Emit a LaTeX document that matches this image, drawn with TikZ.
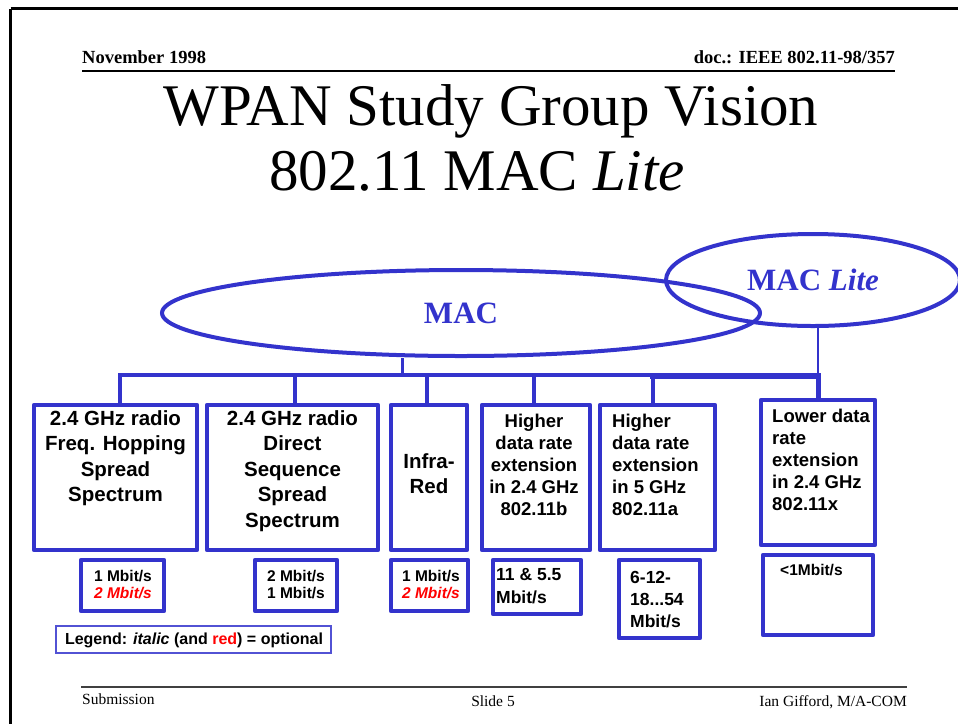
\documentclass[tikz,border=0pt]{standalone}
\usepackage{fontspec}
\setmainfont{Liberation Serif}
\newfontfamily\arialfont{Liberation Sans}
\usetikzlibrary{shapes.geometric}
\definecolor{slideblue}{RGB}{51,51,204}
\definecolor{optred}{RGB}{255,0,0}
\begin{document}
\begin{tikzpicture}[x=1pt,y=-1pt,
  box/.style={draw=slideblue, line width=4.5pt, line join=round, rectangle, inner sep=0pt},
  bus/.style={draw=slideblue, line width=4.5pt, line cap=rect},
  oval/.style={draw=slideblue, line width=4pt, ellipse, inner sep=0pt, text=slideblue, font=\bfseries\fontsize{31}{31}\selectfont},
  bigtxt/.style={font=\arialfont\bfseries\fontsize{20.5}{25.5}\selectfont, align=center, inner sep=0pt, anchor=north},
  midtxt/.style={font=\arialfont\bfseries\fontsize{18.5}{22}\selectfont, inner sep=0pt},
  ratetxt/.style={font=\arialfont\bfseries\fontsize{15.5}{17}\selectfont, align=center, inner sep=0pt, anchor=north},
  ratetxtb/.style={font=\arialfont\bfseries\fontsize{17.5}{22.3}\selectfont, align=left, inner sep=0pt, anchor=north west},
  hdr/.style={font=\bfseries\fontsize{18.5}{22}\selectfont, inner sep=0pt},
  ftr/.style={font=\fontsize{15.5}{18}\selectfont, inner sep=0pt},
  ttl/.style={font=\fontsize{59}{65}\selectfont, inner sep=0pt, anchor=base}
]
\useasboundingbox (0,0) rectangle (958,724);
% frame
\draw[line width=2.7pt] (10.7,8.7) -- (958,8.7);
\draw[line width=2.7pt] (10.7,8.7) -- (10.7,724);
% header
\node[hdr, anchor=base west] (date) at (82,63) {November 1998};
\node[hdr, anchor=base east] (doc) at (895,63) {doc.: IEEE 802.11-98/357};
\draw[line width=1.3pt] (82,71) -- (895,71);
% title
\node[ttl] (title1) at (491,125) {WPAN Study Group Vision};
\node[ttl] (title2) at (477,190) {802.11 MAC \textit{Lite}};
% ellipses
\node[oval, minimum width=598pt, minimum height=86pt] (mac) at (461,313) {MAC};
\node[oval, minimum width=294pt, minimum height=92pt] (lite) at (813,280) {MAC \textit{Lite}};
% boxes
\node[box, minimum width=163pt, minimum height=145pt] (b1) at (115.5,477.5) {};
\node[box, minimum width=171pt, minimum height=145pt] (b2) at (292.5,477.5) {};
\node[box, minimum width=76pt, minimum height=145pt] (b3) at (429,477.5) {};
\node[box, minimum width=108pt, minimum height=145pt] (b4) at (536,477.5) {};
\node[box, minimum width=115pt, minimum height=145pt] (b5) at (657.5,477.5) {};
\node[box, minimum width=114pt, minimum height=145pt] (b6) at (818,472.5) {};
% box texts
\node[bigtxt] (tb1) at (115.5,410.4) {2.4 GHz radio\\Freq. Hopping\\Spread\\Spectrum};
\node[bigtxt] (tb2) at (292.5,410.4) {2.4 GHz radio\\Direct\\Sequence\\Spread\\Spectrum};
\node[bigtxt] (tb3) at (429,453.4) {Infra-\\Red};
\node[midtxt, align=center, anchor=north] (tb4) at (534,414) {Higher\\data rate\\extension\\in 2.4 GHz\\802.11b};
\node[midtxt, align=left, anchor=north west] (tb5) at (612,414) {Higher\\data rate\\extension\\in 5 GHz\\802.11a};
\node[midtxt, align=left, anchor=north west] (tb6) at (772,409) {Lower data\\rate\\extension\\in 2.4 GHz\\802.11x};
% bus
\coordinate (j1) at (120,375);
\coordinate (j2) at (295,375);
\coordinate (j3) at (427,375);
\coordinate (j4) at (534,375);
\coordinate (j5) at (653,375);
\coordinate (j6) at (818,376);
\coordinate (jm) at (402,375);
\draw[bus] (j1) -- (j5);
\draw[bus, line width=5.5pt] (j5 |- j6) -- (j6);
\draw[bus, line width=3pt, line cap=butt] (jm |- mac.south) -- (jm);
\draw[bus, line width=2pt, line cap=butt] (j6 |- lite.south) -- (j6);
\draw[bus, line cap=butt] (j1) -- (j1 |- b1.north);
\draw[bus, line cap=butt] (j2) -- (j2 |- b2.north);
\draw[bus, line cap=butt] (j3) -- (j3 |- b3.north);
\draw[bus, line cap=butt] (j4) -- (j4 |- b4.north);
\draw[bus, line cap=butt] (j5) -- (j5 |- b5.north);
\draw[bus, line width=5pt, line cap=butt] (j6) -- (j6 |- b6.north);
% rate boxes
\node[box, minimum width=83pt, minimum height=51pt] (r1) at (122.5,585.5) {};
\node[box, minimum width=82pt, minimum height=51pt] (r2) at (296,585.5) {};
\node[box, minimum width=77pt, minimum height=51pt] (r3) at (429.5,585.5) {};
\node[box, minimum width=88pt, minimum height=54pt] (r4) at (537,587) {};
\node[box, minimum width=81pt, minimum height=78pt] (r5) at (659.5,599) {};
\node[box, minimum width=110pt, minimum height=80pt] (r6) at (818,595) {};
\node[ratetxt] (tr1) at (123,569.7) {1 Mbit/s\\{\color{optred}\itshape 2 Mbit/s}};
\node[ratetxt] (tr2) at (296,569.7) {2 Mbit/s\\1 Mbit/s};
\node[ratetxt] (tr3) at (431,569.7) {1 Mbit/s\\{\color{optred}\itshape 2 Mbit/s}};
\node[ratetxtb] (tr4) at (496,568.6) {11 \& 5.5\\Mbit/s};
\node[ratetxtb] (tr5) at (630,570.8) {6-12-\\18...54\\Mbit/s};
\node[ratetxt, anchor=north west] (tr6) at (780,564) {<1Mbit/s};
% legend
\node[draw=slideblue!85, line width=1.5pt, rectangle, inner sep=0pt, minimum width=275pt, minimum height=27pt] (leg) at (193.5,639.5) {};
\node[font=\arialfont\bfseries\fontsize{16}{18}\selectfont, inner sep=0pt, anchor=base] (legtxt) at (194,644) {Legend: \textit{italic} (and \textcolor{optred}{red}) = optional};
% footer
\draw[line width=1.5pt, black!75] (81,687) -- (907,687);
\node[ftr, anchor=base west] (sub) at (82,704) {Submission};
\node[ftr, anchor=base] (slide) at (493,706) {Slide 5};
\node[ftr, anchor=base east] (auth) at (907,706) {Ian Gifford, M/A-COM};
\end{tikzpicture}
\end{document}
